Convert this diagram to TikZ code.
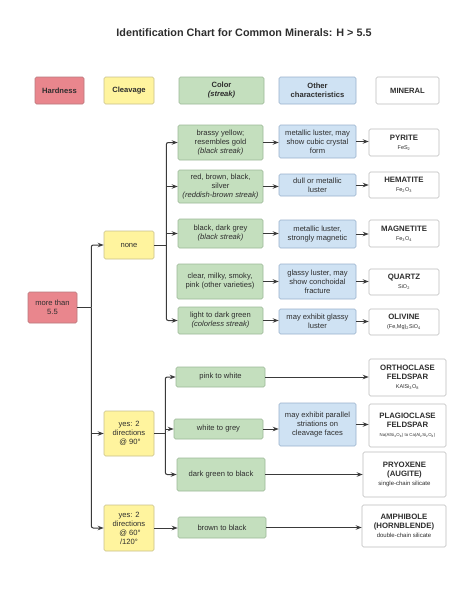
\documentclass[tikz,border=0pt]{standalone}
\usepackage{fontspec}
\setmainfont{Liberation Sans}
\usetikzlibrary{arrows.meta}
\definecolor{txt}{HTML}{2E2E2E}
\definecolor{lnc}{HTML}{3A3A3A}
\definecolor{redf}{HTML}{E9868D}
\definecolor{redd}{HTML}{B8787C}
\definecolor{yelf}{HTML}{FFF49E}
\definecolor{yeld}{HTML}{C8C08C}
\definecolor{grnf}{HTML}{C4DFBE}
\definecolor{grnd}{HTML}{9CB897}
\definecolor{bluf}{HTML}{CFE2F3}
\definecolor{blud}{HTML}{99B1CC}
\definecolor{whtd}{HTML}{BBBBBB}
\tikzset{
  base/.style={rectangle, rounded corners=1.5pt, line width=0.6pt, align=center,
    inner sep=1pt, text=txt, font=\fontsize{7.6}{9}\selectfont},
  redbox/.style={base, fill=redf, draw=redd},
  yelbox/.style={base, fill=yelf, draw=yeld},
  grnbox/.style={base, fill=grnf, draw=grnd},
  blubox/.style={base, fill=bluf, draw=blud},
  minbox/.style={base, fill=white, draw=whtd},
  hdr/.style={font=\fontsize{7.6}{9}\selectfont\bfseries},
  arr/.style={draw=lnc, line width=1pt, -{Stealth[length=6pt,width=4.5pt]}},
  ln/.style={draw=lnc, line width=1pt},
}
\newcommand{\mn}[1]{{\fontsize{7.8}{9}\selectfont\bfseries #1}}
\newcommand{\fm}[1]{{\fontsize{5.5}{7}\selectfont #1}}
\newcommand{\sm}[1]{{\fontsize{6}{7}\selectfont #1}}
\begin{document}
\begin{tikzpicture}[x=1pt,y=-1pt]
\useasboundingbox (0,0) rectangle (474,613);
\node[text=txt, font=\fontsize{10.8}{13}\selectfont\bfseries] (title) at (244,33) {Identification Chart for Common Minerals: H > 5.5};
% header
\node[redbox, hdr, minimum width=49pt, minimum height=27pt] (hH) at (59.5,90.5) {Hardness};
\node[yelbox, hdr, minimum width=50pt, minimum height=27pt] (hC) at (129,90.5) {Cleavage};
\node[grnbox, hdr, minimum width=85pt, minimum height=27pt] (hCol) at (221.5,90.5) {Color\\\textit{(streak)}};
\node[blubox, hdr, minimum width=77pt, minimum height=27pt] (hO) at (317.5,90.5) {Other\\characteristics};
\node[minbox, hdr, minimum width=63pt, minimum height=27pt] (hM) at (407.5,90.5) {MINERAL};
% hardness / cleavage
\node[redbox, minimum width=49pt, minimum height=31pt] (more) at (52.5,307.5) {more than\\5.5};
\node[yelbox, minimum width=50pt, minimum height=28pt] (none) at (129,245) {none};
\node[yelbox, minimum width=50pt, minimum height=45pt] (y90) at (129,433.5) {yes: 2\\directions\\\ @ 90°};
\node[yelbox, minimum width=50pt, minimum height=46pt] (y60) at (129,528) {yes: 2\\directions\\\ @ 60°\\/120°};
% colour
\node[grnbox, minimum width=85pt, minimum height=35pt] (g1) at (220.5,142.5) {brassy yellow;\\resembles gold\\\textit{(black streak)}};
\node[grnbox, minimum width=85pt, minimum height=33pt] (g2) at (220.5,186.5) {red, brown, black,\\silver\\\textit{(reddish-brown streak)}};
\node[grnbox, minimum width=85pt, minimum height=29pt] (g3) at (220.5,233.5) {black, dark grey\\\textit{(black streak)}};
\node[grnbox, minimum width=86pt, minimum height=35pt] (g4) at (220,281.5) {clear, milky, smoky,\\pink (other varieties)};
\node[grnbox, minimum width=85pt, minimum height=27pt] (g5) at (220.5,320.5) {light to dark green\\\textit{(colorless streak)}};
\node[grnbox, minimum width=89pt, minimum height=20pt] (g6) at (220.5,377) {pink to white};
\node[grnbox, minimum width=89pt, minimum height=20pt] (g7) at (218.5,429) {white to grey};
\node[grnbox, minimum width=88pt, minimum height=33pt] (g8) at (221,474.5) {dark green to black};
\node[grnbox, minimum width=88pt, minimum height=21pt] (g9) at (222,527.5) {brown to black};
% other
\node[blubox, minimum width=77pt, minimum height=33pt] (b1) at (317.5,141.5) {metallic luster, may\\show cubic crystal\\form};
\node[blubox, minimum width=77pt, minimum height=22pt] (b2) at (317.5,185) {dull or metallic\\luster};
\node[blubox, minimum width=77pt, minimum height=28pt] (b3) at (317.5,234) {metallic luster,\\strongly magnetic};
\node[blubox, minimum width=77pt, minimum height=35pt] (b4) at (317.5,281.5) {glassy luster, may\\show conchoidal\\fracture};
\node[blubox, minimum width=77pt, minimum height=25pt] (b5) at (317.5,321.5) {may exhibit glassy\\luster};
\node[blubox, minimum width=77pt, minimum height=43pt] (b7) at (317.5,424.5) {may exhibit parallel\\striations on\\cleavage faces};
% minerals
\node[minbox, minimum width=70pt, minimum height=27pt] (m1) at (404,142.5) {\mn{PYRITE}\\\fm{FeS\textsubscript{2}}};
\node[minbox, minimum width=70pt, minimum height=26pt] (m2) at (404,185) {\mn{HEMATITE}\\\fm{Fe\textsubscript{2}O\textsubscript{3}}};
\node[minbox, minimum width=70pt, minimum height=27pt] (m3) at (404,233.5) {\mn{MAGNETITE}\\\fm{Fe\textsubscript{3}O\textsubscript{4}}};
\node[minbox, minimum width=70pt, minimum height=26pt] (m4) at (404,282) {\mn{QUARTZ}\\\fm{SiO\textsubscript{2}}};
\node[minbox, minimum width=70pt, minimum height=26pt] (m5) at (404,322) {\mn{OLIVINE}\\\fm{(Fe,Mg)\textsubscript{2}SiO\textsubscript{4}}};
\node[minbox, minimum width=77pt, minimum height=37pt] (m6) at (407.5,377.5) {\mn{ORTHOCLASE}\\\mn{FELDSPAR}\\\fm{KAlSi\textsubscript{3}O\textsubscript{8}}};
\node[minbox, minimum width=77pt, minimum height=43pt] (m7) at (407.5,425.5) {\mn{PLAGIOCLASE}\\\mn{FELDSPAR}\\{\fontsize{4.3}{6}\selectfont Na(AlSi\textsubscript{3}O\textsubscript{8}) to Ca(Al\textsubscript{2}Si\textsubscript{2}O\textsubscript{8})}};
\node[minbox, minimum width=83pt, minimum height=45pt] (m8) at (404.5,474.5) {\mn{PRYOXENE}\\\mn{(AUGITE)}\\\sm{single-chain silicate}};
\node[minbox, minimum width=84pt, minimum height=42pt] (m9) at (404,526) {\mn{AMPHIBOLE}\\\mn{(HORNBLENDE)}\\\sm{double-chain silicate}};
% trunk from hardness
\draw[ln] (more.east) -- ++(14,0) coordinate (t);
\draw[arr, rounded corners=2pt] (t) |- (none.west);
\draw[arr] (t) |- (y90.west);
\draw[arr, rounded corners=2pt] (t) |- (y60.west);
% branch from none
\draw[ln] (none.east) -- ++(12,0) coordinate (bn);
\draw[arr, rounded corners=2pt] (bn) |- (g1.west);
\draw[arr] (bn) |- (g2.west);
\draw[arr] (bn) |- (g3.west);
\draw[arr, rounded corners=2pt] (bn) |- (g5.west);
% branch from 90
\draw[ln] (y90.east) -- ++(11,0) coordinate (b9);
\draw[arr, rounded corners=2pt] (b9) |- (g6.west);
\draw[arr] (b9) |- (g7.west);
\draw[arr, rounded corners=2pt] (b9) |- (g8.west);
% 60
\draw[arr] (y60.east) -- (y60.east -| g9.west);
% colour to other
\foreach \g/\b in {g1/b1,g2/b2,g3/b3,g4/b4,g5/b5,g7/b7}
  \draw[arr] (\g.east) -- (\g.east -| \b.west);
\foreach \b/\m in {b1/m1,b2/m2,b3/m3,b4/m4,b5/m5,b7/m7}
  \draw[arr] (\b.east) -- (\b.east -| \m.west);
\foreach \g/\m in {g6/m6,g8/m8,g9/m9}
  \draw[arr] (\g.east) -- (\g.east -| \m.west);
\end{tikzpicture}
\end{document}
